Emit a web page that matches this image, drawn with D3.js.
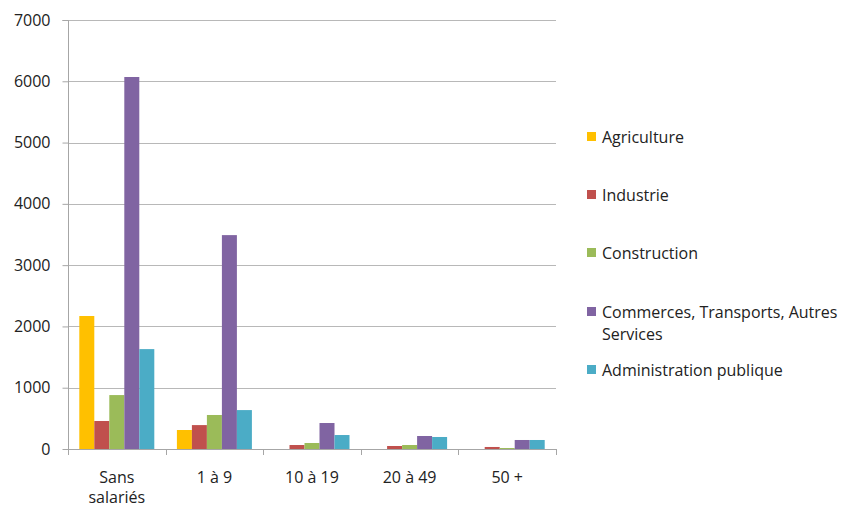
<!DOCTYPE html>
<html><head><meta charset="utf-8">
<script src="https://cdn.jsdelivr.net/npm/d3@7"></script>
<style>body{margin:0;background:#fff;} text{font-family:"Open Sans",Lato,sans-serif;}</style>
</head><body>
<svg id="c" width="852" height="508"></svg>
<script>
const categories = [["Sans", "salariés"], ["1 à 9"], ["10 à 19"], ["20 à 49"], ["50 +"]];
const seriesNames = ["Agriculture", "Industrie", "Construction", "Commerces, Transports, Autres Services", "Administration publique"];
const legendLines = [["Agriculture"], ["Industrie"], ["Construction"], ["Commerces, Transports, Autres", "Services"], ["Administration publique"]];
const colors = ["#FFC000", "#C0504D", "#9BBB59", "#8064A2", "#4BACC6"];
const agriculture = [2170, 310, 0, 0, 0];
const industrie = [457, 390, 65, 49, 33];
const construction = [880, 555, 98, 65, 16];
const commerces = [6070, 3490, 424, 212, 147];
const administration = [1630, 635, 228, 196, 147];
const yTicks = [0, 1000, 2000, 3000, 4000, 5000, 6000, 7000];

const series = [agriculture, industrie, construction, commerces, administration];
const svg = d3.select("#c");
const x0 = 68, x1 = 556, yTop = 20, yBot = 449;
const FS = 16;
const y = d3.scaleLinear().domain([0, 7000]).range([yBot, yTop]);
const xb = d3.scaleBand().domain(d3.range(categories.length)).range([x0, x1]).paddingInner(0).paddingOuter(0);
const bw = 15;
const groupW = bw * series.length;

// gridlines
svg.append("g").selectAll("line").data(yTicks.filter(d => d > 0)).join("line")
  .attr("x1", x0).attr("x2", x1).attr("y1", d => Math.round(y(d)) + 0.5).attr("y2", d => Math.round(y(d)) + 0.5)
  .attr("stroke", "#b8b8b8").attr("stroke-width", 1);

// bars
series.forEach((s, si) => {
  svg.append("g").selectAll("rect").data(s).join("rect")
    .attr("x", (d, i) => xb(i) + (xb.bandwidth() - groupW) / 2 + si * bw)
    .attr("width", bw)
    .attr("y", d => y(d))
    .attr("height", d => yBot - y(d))
    .attr("fill", colors[si]);
});

// y axis
const yAxis = d3.axisLeft(y).tickValues(yTicks).tickSize(6).tickPadding(12).tickFormat(d3.format("d"));
const ga = svg.append("g").attr("transform", `translate(${x0 + 0.5},0)`).call(yAxis);
ga.select(".domain").attr("stroke", "#a6a6a6").attr("d", `M-6,${yTop + 0.5}H0V${yBot}`);
ga.selectAll(".tick line").attr("stroke", "#a6a6a6");
ga.selectAll(".tick text").attr("font-size", FS).attr("fill", "#222").attr("font-family", "'Open Sans',Lato,sans-serif");

// x axis
const gx = svg.append("g");
gx.append("line").attr("x1", x0).attr("x2", x1).attr("y1", yBot + 0.5).attr("y2", yBot + 0.5).attr("stroke", "#a6a6a6");
const tickXs = d3.range(categories.length + 1).map(i => i < categories.length ? xb(i) : x1);
gx.selectAll("line.t").data(tickXs).join("line").attr("class", "t")
  .attr("x1", d => Math.round(d) + 0.5).attr("x2", d => Math.round(d) + 0.5)
  .attr("y1", yBot).attr("y2", yBot + 6).attr("stroke", "#a6a6a6");
const lbl = gx.selectAll("text").data(categories).join("text")
  .attr("x", (d, i) => xb(i) + xb.bandwidth() / 2)
  .attr("y", 483).attr("text-anchor", "middle").attr("font-size", FS).attr("fill", "#222");
lbl.selectAll("tspan").data(d => d).join("tspan")
  .attr("x", function() { return d3.select(this.parentNode).attr("x"); })
  .attr("dy", (d, i) => i === 0 ? 0 : 20).text(d => d);

// legend
const legY = [138, 196, 254, 313, 371];
const lg = svg.append("g");
legendLines.forEach((lines, i) => {
  lg.append("rect").attr("x", 587).attr("y", legY[i] - 6).attr("width", 9).attr("height", 9).attr("fill", colors[i]);
  const t = lg.append("text").attr("x", 602).attr("y", legY[i] + 5).attr("font-size", FS).attr("fill", "#222");
  lines.forEach((l, j) => t.append("tspan").attr("x", 602).attr("dy", j === 0 ? 0 : 22).text(l));
});
</script>
</body></html>
